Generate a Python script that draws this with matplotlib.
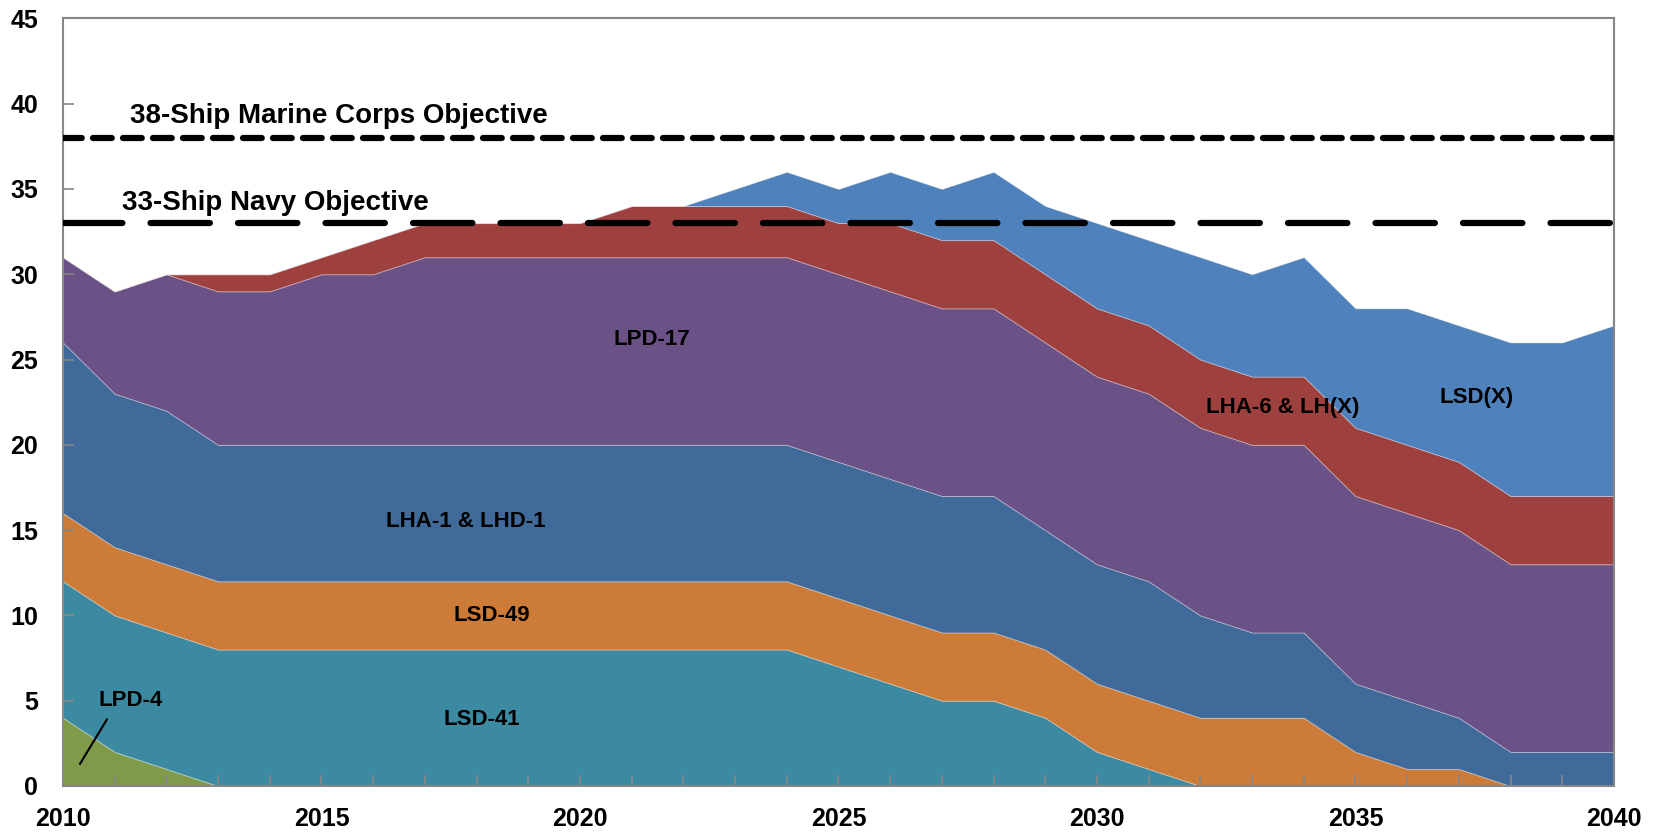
import matplotlib.pyplot as plt
import numpy as np

years = np.arange(2010, 2041)

# ships in service per class, bottom to top of the stack
lpd_4 = [4, 2, 1] + [0] * 28
lsd_41 = [8] * 15 + [7, 6, 5, 5, 4, 2, 1] + [0] * 9
lsd_49 = [4] * 25 + [2, 1, 1, 0, 0, 0]
lha_1 = [10, 9, 9] + [8] * 16 + [7, 7, 7, 6, 5, 5, 4, 4, 3, 2, 2, 2]
lpd_17 = [5, 6, 8, 9, 9, 10, 10] + [11] * 24
lha_6 = [0, 0, 0, 1, 1, 1, 2, 2, 2, 2, 2, 3, 3, 3, 3, 3] + [4] * 15
lsd_x = [0] * 13 + [1, 2, 2, 3, 3, 4, 4, 5, 5, 6, 6, 7, 7, 8, 8, 9, 9, 10]

names = ["LPD-4", "LSD-41", "LSD-49", "LHA-1 & LHD-1", "LPD-17",
         "LHA-6 & LH(X)", "LSD(X)"]
colors = ["#7F9A48", "#3C8AA2", "#CC7B38", "#3F6A9A", "#6A5186",
          "#9D403E", "#4F81BC"]

marine_obj = 38
navy_obj = 33

plt.rcParams['font.family'] = ['Liberation Sans', 'DejaVu Sans']

fig = plt.figure(figsize=(16.57, 8.35), dpi=100)
ax = fig.add_axes([0.038, 0.0587, 0.936, 0.9193])

ax.stackplot(years, lpd_4, lsd_41, lsd_49, lha_1, lpd_17, lha_6, lsd_x,
             colors=colors, labels=names, edgecolor=(1, 1, 1, 0.3),
             linewidth=0.7)

ax.axhline(marine_obj, color='black', lw=4.5, linestyle=(0, (3, 1.8)),
           dash_capstyle='round', zorder=5)
ax.axhline(navy_obj, color='black', lw=4.5, linestyle=(0, (9.5, 4.5)),
           dash_capstyle='round', zorder=5)

ax.text(2011.3, 39.3, "38-Ship Marine Corps Objective", fontsize=20,
        weight='bold', va='center', ha='left')
ax.text(2011.15, 34.15, "33-Ship Navy Objective", fontsize=20,
        weight='bold', va='center', ha='left')

lab = dict(fontsize=16, weight='bold', ha='center', va='center')
ax.text(2021.4, 26.2, "LPD-17", **lab)
ax.text(2017.8, 15.5, "LHA-1 & LHD-1", **lab)
ax.text(2018.3, 10.0, "LSD-49", **lab)
ax.text(2018.1, 3.9, "LSD-41", **lab)
ax.text(2011.3, 5.0, "LPD-4", **lab)
ax.text(2033.6, 22.2, "LHA-6 & LH(X)", **lab)
ax.text(2037.35, 22.8, "LSD(X)", **lab)
ax.plot([2010.33, 2010.85], [1.3, 3.9], color='black', lw=1.5)

ax.set_xlim(2010, 2040)
ax.set_ylim(0, 45)
ax.set_xticks(np.arange(2010, 2041, 5))
ax.set_xticks(years, minor=True)
ax.set_yticks(np.arange(0, 46, 5))
ax.tick_params(axis='both', which='both', direction='in', color='#868686',
               labelsize=18, width=1.2)
ax.tick_params(axis='x', which='major', length=8, pad=15)
ax.tick_params(axis='x', which='minor', length=8)
ax.tick_params(axis='y', length=8, pad=18)
for lbl in ax.get_xticklabels() + ax.get_yticklabels():
    lbl.set_fontweight('bold')
for s in ax.spines.values():
    s.set_color('#868686')
    s.set_linewidth(1.5)

fig.savefig("out.png", dpi=100)
